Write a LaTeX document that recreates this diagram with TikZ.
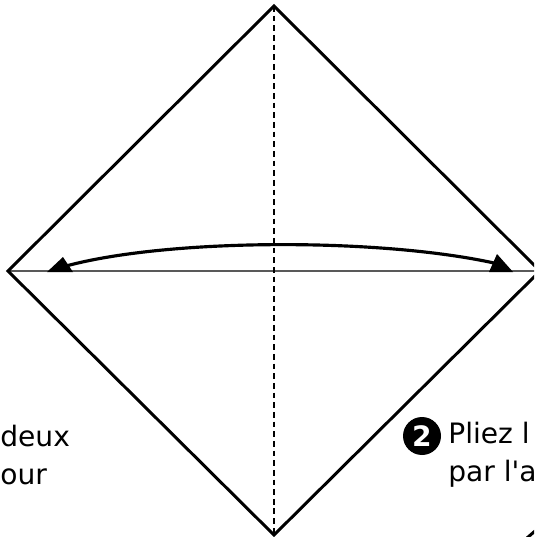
\documentclass[tikz,border=0pt]{standalone}
\usepackage{fontspec}
\setmainfont{DejaVu Sans}[Ligatures=TeXOff]
\tikzset{
  fold/.style={line width=1.7pt},
  valley/.style={line width=1.6pt,dash pattern=on 3.3pt off 2.2pt},
  crease/.style={gray!70!black,line width=0.6pt},
  txt/.style={anchor=base west,inner sep=0pt,font=\fontsize{16}{18}\selectfont},
  stepnum/.style={circle,fill=black,inner sep=0pt,minimum size=0.76cm,text=white,font=\fontsize{16}{18}\selectfont\bfseries}
}
\begin{document}
\begin{tikzpicture}[x=0.02cm,y=-0.02cm]
\useasboundingbox (0,0) rectangle (534,537);
\clip (0,0) rectangle (534,537);
\coordinate (T) at (274,6);
\coordinate (L) at (8,271);
\coordinate (R) at (540,271);
\coordinate (B) at (274,535);
\draw[crease] (L) -- (R);
\draw[valley] (T) -- (B);
\draw[fold] (T) -- (L) -- (B) -- (R) -- cycle;
\draw[line width=1.8pt] (66,266) .. controls (170,238) and (380,238) .. (494,263);
\fill (47,272) -- (63,257) -- (73,272) -- cycle;
\fill (513,272) -- (497,254) -- (489,272) -- cycle;
\draw[fold] (527,538) -- (535,531);
\node[txt] (deux) at (0,446) {deux};
\node[txt] (our) at (0,484) {our};
\node[stepnum] (two) at (422,436) {2};
\node[txt] (pliez) at (448,443) {Pliez l};
\node[txt] (par) at (448,481) {par l'a};
\end{tikzpicture}
\end{document}
